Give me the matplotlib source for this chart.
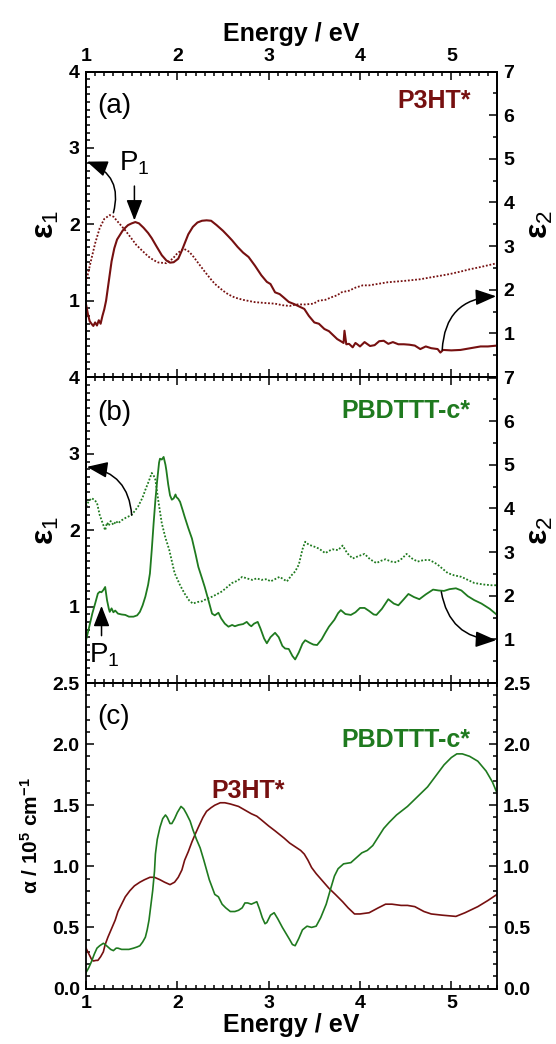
import numpy as np
import matplotlib
matplotlib.use("Agg")
import matplotlib.pyplot as plt
from matplotlib.ticker import MultipleLocator, FixedLocator

plt.rcParams['font.family'] = ['Liberation Sans', 'DejaVu Sans']
plt.rcParams['mathtext.fontset'] = 'custom'
plt.rcParams['mathtext.rm'] = 'Liberation Sans'
plt.rcParams['mathtext.it'] = 'Liberation Sans:italic'
plt.rcParams['mathtext.bf'] = 'Liberation Sans:bold'

RED = '#761010'
GREEN = '#1f7a1f'

# ---------------- data (energy in eV, value) ----------------
p3ht_eps1 = [(1.00,1.24),(1.05,1.50),(1.10,1.75),(1.15,1.95),(1.20,2.07),(1.26,2.12),(1.30,2.10),(1.35,2.03),
             (1.43,1.92),(1.50,1.81),(1.55,1.73),(1.61,1.66),(1.68,1.58),(1.74,1.53),(1.79,1.50),(1.88,1.49),
             (1.95,1.55),(2.00,1.62),(2.07,1.68),(2.13,1.64),(2.18,1.57),(2.23,1.49),(2.30,1.38),(2.36,1.29),
             (2.41,1.22),(2.50,1.13),(2.56,1.08),(2.63,1.04),(2.72,1.01),(2.85,0.98),(2.95,0.97),(3.07,0.96),
             (3.15,0.94),(3.23,0.93),(3.30,0.95),(3.40,0.95),(3.49,0.96),(3.55,1.00),(3.62,1.01),(3.70,1.05),
             (3.75,1.07),(3.80,1.11),(3.88,1.13),(3.95,1.17),(4.03,1.20),(4.10,1.20),(4.20,1.22),(4.30,1.24),
             (4.40,1.25),(4.50,1.26),(4.66,1.28),(4.80,1.31),(4.90,1.33),(4.99,1.35),(5.10,1.38),(5.20,1.41),
             (5.32,1.44),(5.50,1.49)]

p3ht_eps2 = [(1.00,1.67),(1.02,1.45),(1.04,1.28),(1.06,1.22),(1.08,1.17),(1.10,1.25),(1.12,1.18),(1.14,1.30),
             (1.16,1.22),(1.18,1.40),(1.20,1.55),(1.22,1.75),(1.25,2.20),(1.28,2.65),(1.31,2.95),(1.34,3.15),
             (1.37,3.25),(1.40,3.35),(1.43,3.42),(1.46,3.48),(1.50,3.52),(1.54,3.55),(1.58,3.52),(1.63,3.42),
             (1.68,3.30),(1.72,3.18),(1.77,3.00),(1.83,2.79),(1.88,2.67),(1.92,2.62),(1.96,2.63),(2.01,2.71),
             (2.05,2.90),(2.08,3.06),(2.12,3.27),(2.17,3.44),(2.22,3.54),(2.27,3.58),(2.32,3.59),(2.37,3.58),
             (2.43,3.48),(2.50,3.35),(2.56,3.22),(2.60,3.13),(2.66,2.98),(2.72,2.85),(2.78,2.75),(2.85,2.55),
             (2.92,2.33),(2.98,2.18),(3.02,2.13),(3.07,1.94),(3.12,1.90),(3.16,1.83),(3.22,1.72),(3.28,1.67),
             (3.33,1.62),(3.39,1.56),(3.44,1.40),(3.50,1.25),(3.55,1.22),(3.61,1.10),(3.66,1.05),(3.71,0.95),
             (3.75,0.87),(3.79,0.82),(3.82,0.78),(3.83,1.06),(3.85,0.75),(3.88,0.76),(3.92,0.68),(3.95,0.78),
             (3.97,0.75),(4.00,0.70),(4.05,0.80),(4.11,0.71),(4.16,0.73),(4.21,0.82),(4.26,0.83),(4.31,0.76),
             (4.36,0.80),(4.42,0.75),(4.48,0.75),(4.54,0.74),(4.60,0.72),(4.66,0.64),(4.72,0.70),(4.78,0.66),
             (4.85,0.64),(4.88,0.56),(4.91,0.62),(5.00,0.61),(5.10,0.62),(5.21,0.66),(5.32,0.70),(5.40,0.70),
             (5.50,0.72)]

pbd_eps1 = [(1.00,2.31),(1.03,2.38),(1.06,2.42),(1.09,2.40),(1.12,2.36),(1.15,2.20),(1.18,2.10),(1.21,2.00),
            (1.23,2.10),(1.25,2.06),(1.27,2.12),(1.30,2.07),(1.33,2.12),(1.35,2.09),(1.39,2.13),(1.43,2.16),
            (1.50,2.20),(1.57,2.31),(1.62,2.43),(1.65,2.53),(1.69,2.65),(1.72,2.75),(1.74,2.72),(1.76,2.66),
            (1.79,2.40),(1.83,2.09),(1.87,1.90),(1.91,1.75),(1.97,1.44),(2.03,1.28),(2.08,1.17),(2.13,1.08),
            (2.17,1.04),(2.22,1.06),(2.27,1.07),(2.32,1.10),(2.38,1.13),(2.43,1.16),(2.49,1.20),(2.55,1.26),
            (2.60,1.31),(2.66,1.34),(2.71,1.39),(2.76,1.37),(2.82,1.35),(2.87,1.37),(2.92,1.35),(2.98,1.36),
            (3.02,1.33),(3.07,1.36),(3.12,1.39),(3.20,1.33),(3.25,1.41),(3.29,1.46),(3.33,1.55),(3.37,1.75),
            (3.40,1.85),(3.44,1.81),(3.49,1.79),(3.55,1.76),(3.62,1.70),(3.66,1.73),(3.70,1.75),(3.76,1.74),
            (3.81,1.80),(3.86,1.70),(3.92,1.63),(3.98,1.66),(4.05,1.69),(4.11,1.62),(4.18,1.57),(4.23,1.60),
            (4.28,1.62),(4.34,1.59),(4.40,1.58),(4.46,1.63),(4.51,1.69),(4.57,1.63),(4.63,1.59),(4.70,1.61),
            (4.76,1.61),(4.81,1.58),(4.85,1.55),(4.90,1.50),(4.96,1.44),(5.03,1.41),(5.11,1.39),(5.18,1.35),
            (5.25,1.31),(5.35,1.29),(5.44,1.28),(5.50,1.28)]

pbd_eps2 = [(1.00,0.98),(1.02,1.15),(1.04,1.33),(1.07,1.60),(1.10,1.82),(1.13,2.05),(1.15,2.09),(1.17,2.08),
            (1.19,2.13),(1.21,2.20),(1.22,2.05),(1.23,1.90),(1.25,1.70),(1.26,1.63),(1.28,1.71),(1.30,1.62),
            (1.32,1.66),(1.35,1.59),(1.39,1.57),(1.43,1.56),(1.47,1.52),(1.52,1.52),(1.56,1.55),(1.59,1.63),
            (1.62,1.78),(1.65,1.98),(1.68,2.25),(1.70,2.51),(1.72,3.05),(1.74,3.65),(1.76,4.20),(1.78,4.65),
            (1.80,5.05),(1.81,5.14),(1.83,5.12),(1.85,5.18),(1.87,5.00),(1.88,4.87),(1.90,4.55),(1.92,4.30),
            (1.94,4.20),(1.96,4.23),(1.98,4.32),(1.99,4.26),(2.01,4.22),(2.03,4.15),(2.06,3.95),(2.08,3.81),
            (2.12,3.55),(2.16,3.31),(2.20,2.95),(2.23,2.66),(2.27,2.40),(2.30,2.20),(2.34,1.90),(2.38,1.59),
            (2.41,1.55),(2.45,1.61),(2.48,1.48),(2.52,1.36),(2.56,1.29),(2.60,1.33),(2.63,1.30),(2.67,1.33),
            (2.72,1.35),(2.76,1.40),(2.79,1.33),(2.81,1.30),(2.84,1.36),(2.88,1.40),(2.91,1.25),(2.95,1.02),
            (2.98,0.91),(3.02,1.05),(3.07,1.15),(3.11,1.05),(3.15,0.85),(3.18,0.79),(3.22,0.78),(3.26,0.62),
            (3.29,0.54),(3.33,0.70),(3.37,0.90),(3.40,0.98),(3.45,0.92),(3.49,0.88),(3.53,0.87),(3.58,1.00),
            (3.62,1.15),(3.66,1.29),(3.72,1.45),(3.76,1.60),(3.79,1.67),(3.84,1.58),(3.90,1.56),(3.95,1.62),
            (4.00,1.72),(4.05,1.72),(4.10,1.65),(4.15,1.57),(4.18,1.56),(4.24,1.70),(4.31,1.92),(4.37,1.82),
            (4.42,1.78),(4.48,1.92),(4.53,2.04),(4.59,1.97),(4.65,1.92),(4.72,2.03),(4.80,2.14),(4.86,2.12),
            (4.92,2.11),(4.98,2.15),(5.05,2.17),(5.11,2.12),(5.18,1.99),(5.25,1.90),(5.33,1.82),(5.42,1.70),
            (5.50,1.56)]

p3ht_alpha = [(1.00,0.33),(1.02,0.30),(1.04,0.27),(1.06,0.24),(1.08,0.225),(1.11,0.23),(1.13,0.23),(1.16,0.26),
              (1.19,0.30),(1.21,0.36),(1.24,0.42),(1.28,0.49),(1.32,0.56),(1.35,0.63),(1.39,0.69),(1.43,0.75),
              (1.48,0.80),(1.53,0.84),(1.59,0.87),(1.64,0.89),(1.70,0.91),(1.75,0.91),(1.81,0.89),(1.86,0.87),
              (1.92,0.85),(1.97,0.87),(2.01,0.91),(2.05,0.97),(2.08,1.05),(2.12,1.12),(2.16,1.20),(2.20,1.27),
              (2.23,1.32),(2.28,1.40),(2.32,1.45),(2.37,1.48),(2.41,1.50),(2.47,1.52),(2.52,1.52),(2.58,1.51),
              (2.67,1.49),(2.74,1.46),(2.81,1.43),(2.87,1.41),(2.92,1.38),(3.00,1.33),(3.07,1.29),(3.12,1.26),
              (3.17,1.23),(3.23,1.19),(3.29,1.16),(3.35,1.13),(3.39,1.10),(3.43,1.05),(3.47,0.99),(3.52,0.94),
              (3.59,0.88),(3.66,0.82),(3.73,0.77),(3.81,0.71),(3.87,0.66),(3.94,0.61),(4.00,0.61),(4.10,0.62),
              (4.20,0.66),(4.28,0.69),(4.35,0.69),(4.45,0.68),(4.52,0.68),(4.60,0.67),(4.70,0.63),(4.78,0.61),
              (4.90,0.60),(5.05,0.59),(5.15,0.62),(5.29,0.67),(5.40,0.72),(5.50,0.77)]

pbd_alpha = [(1.00,0.13),(1.03,0.17),(1.06,0.22),(1.09,0.28),(1.12,0.33),(1.15,0.35),(1.19,0.37),(1.21,0.36),
             (1.24,0.34),(1.27,0.32),(1.30,0.31),(1.33,0.33),(1.35,0.33),(1.39,0.32),(1.43,0.32),(1.47,0.32),
             (1.52,0.33),(1.56,0.34),(1.59,0.35),(1.62,0.38),(1.65,0.42),(1.67,0.48),(1.69,0.56),(1.71,0.68),
             (1.73,0.80),(1.75,0.96),(1.76,1.10),(1.78,1.22),(1.81,1.32),(1.84,1.39),(1.87,1.42),(1.89,1.40),
             (1.92,1.35),(1.94,1.35),(1.97,1.39),(2.00,1.44),(2.04,1.49),(2.07,1.47),(2.10,1.43),(2.14,1.37),
             (2.17,1.30),(2.21,1.22),(2.25,1.15),(2.29,1.05),(2.32,0.97),(2.35,0.89),(2.38,0.83),(2.41,0.77),
             (2.45,0.75),(2.49,0.69),(2.53,0.66),(2.58,0.63),(2.63,0.63),(2.67,0.64),(2.71,0.66),(2.74,0.70),
             (2.77,0.70),(2.81,0.69),(2.84,0.70),(2.87,0.71),(2.90,0.65),(2.93,0.58),(2.96,0.53),(2.98,0.54),
             (3.02,0.60),(3.06,0.62),(3.10,0.57),(3.15,0.50),(3.19,0.45),(3.23,0.40),(3.26,0.36),(3.29,0.35),
             (3.33,0.41),(3.37,0.48),(3.42,0.51),(3.47,0.50),(3.52,0.51),(3.57,0.58),(3.63,0.69),(3.68,0.82),
             (3.72,0.92),(3.76,0.98),(3.82,1.02),(3.90,1.03),(3.96,1.07),(4.02,1.11),(4.08,1.13),(4.14,1.17),
             (4.20,1.24),(4.26,1.31),(4.32,1.36),(4.40,1.42),(4.52,1.49),(4.63,1.57),(4.74,1.65),(4.84,1.75),
             (4.92,1.83),(5.00,1.89),(5.06,1.92),(5.12,1.92),(5.20,1.90),(5.29,1.86),(5.38,1.78),(5.45,1.69),
             (5.50,1.60)]

x_ticks = [1, 2, 3, 4, 5]
eps1_ticks = [1, 2, 3, 4]
eps2_ticks = [1, 2, 3, 4, 5, 6, 7]
alpha_ticks = [0.0, 0.5, 1.0, 1.5, 2.0, 2.5]


def xy(pairs):
    a = np.array(pairs)
    return a[:, 0], a[:, 1]


fig = plt.figure(figsize=(5.56, 10.44), dpi=100)
L, W = 86 / 556, 411 / 556
H = 305.5 / 1044
axa = fig.add_axes([L, 1 - 377 / 1044, W, H])
axb = fig.add_axes([L, 1 - 683 / 1044, W, H])
axc = fig.add_axes([L, 1 - 988.5 / 1044, W, H])
axa2 = axa.twinx()
axb2 = axb.twinx()

TFS = 14
for ax in (axa, axb, axc, axa2, axb2):
    ax.set_xlim(1, 5.5)
    ax.xaxis.set_major_locator(FixedLocator(x_ticks))
    ax.xaxis.set_minor_locator(MultipleLocator(0.1))
    ax.tick_params(which='both', direction='in', width=1.1, labelsize=TFS, pad=4.5)
    ax.tick_params(which='major', length=6)
    ax.tick_params(which='minor', length=3)
    for sp in ax.spines.values():
        sp.set_linewidth(1.3)

for ax in (axa, axb, axc):
    ax.tick_params(which='both', top=True, bottom=True, left=True,
                   labelbottom=False, labeltop=False)
for ax in (axa2, axb2):
    ax.tick_params(which='both', top=False, bottom=False, right=True, left=False,
                   labelbottom=False, labeltop=False)

axa.set_ylim(0, 4)
axa2.set_ylim(0, 7)
axb.set_ylim(0, 4)
axb2.set_ylim(0, 7)
for ax in (axa, axb):
    ax.yaxis.set_major_locator(FixedLocator(eps1_ticks))
    ax.yaxis.set_minor_locator(MultipleLocator(0.1))
for ax in (axa2, axb2):
    ax.yaxis.set_major_locator(FixedLocator(eps2_ticks))
    ax.yaxis.set_minor_locator(MultipleLocator(0.5))

axa.tick_params(labeltop=True)
axa.xaxis.set_label_position('top')
axa.set_xlabel('Energy / eV', fontsize=18, fontweight='bold', labelpad=5)

dot = (0, (1, 1))
x, y = xy(p3ht_eps1)
axa.plot(x, y, color=RED, lw=1.3, ls=dot)
x, y = xy(p3ht_eps2)
axa2.plot(x, y, color=RED, lw=1.5)

x, y = xy(pbd_eps1)
axb.plot(x, y, color=GREEN, lw=1.3, ls=dot)
x, y = xy(pbd_eps2)
axb2.plot(x, y, color=GREEN, lw=1.3)

axc.set_ylim(0, 2.5)
axc.yaxis.set_major_locator(FixedLocator(alpha_ticks))
axc.yaxis.set_minor_locator(MultipleLocator(0.1))
axc.yaxis.set_major_formatter(matplotlib.ticker.FormatStrFormatter('%.1f'))
axc.tick_params(which='both', right=True, labelright=True, labelbottom=True)
x, y = xy(p3ht_alpha)
axc.plot(x, y, color=RED, lw=1.2)
x, y = xy(pbd_alpha)
axc.plot(x, y, color=GREEN, lw=1.2)
axc.set_xlabel('Energy / eV', fontsize=18, fontweight='bold', labelpad=1)

for ax in (axa, axb, axc, axa2, axb2):
    for lab in ax.get_xticklabels() + ax.get_yticklabels():
        lab.set_fontweight('bold')
        lab.set_fontsize(TFS)

for ax in (axa, axb):
    ax.set_ylabel(r'$\mathbf{ε}_1$', fontsize=23, labelpad=6)
for ax in (axa2, axb2):
    ax.set_ylabel(r'$\mathbf{ε}_2$', fontsize=23, rotation=90, labelpad=8)
axc.set_ylabel(r'$\mathbf{α\ /\ 10^5\ cm^{-1}}$', fontsize=15, labelpad=8)

axa.text(1.12, 3.55, '(a)', fontsize=20, ha='left', va='center')
axb.text(1.12, 3.53, '(b)', fontsize=20, ha='left', va='center')
axc.text(1.12, 2.22, '(c)', fontsize=20, ha='left', va='center')
axa.text(5.21, 3.61, 'P3HT*', fontsize=18, fontweight='bold', color=RED, ha='right', va='center')
axb.text(5.21, 3.56, 'PBDTTT-c*', fontsize=18, fontweight='bold', color=GREEN, ha='right', va='center')
axc.text(5.21, 2.03, 'PBDTTT-c*', fontsize=18, fontweight='bold', color=GREEN, ha='right', va='center')
axc.text(2.37, 1.62, 'P3HT*', fontsize=18, fontweight='bold', color=RED, ha='left', va='center')

axa.text(1.53, 2.80, r'P$_1$', fontsize=20, ha='center', va='center')
axb.text(1.20, 0.36, r'P$_1$', fontsize=20, ha='center', va='center')

ak = dict(arrowstyle='-|>,head_length=0.9,head_width=0.35', color='black', lw=1.1,
          shrinkA=0, shrinkB=0, mutation_scale=14)
axa.annotate('', xy=(1.53, 2.05), xytext=(1.53, 2.50), arrowprops=ak)
axb.annotate('', xy=(1.17, 1.01), xytext=(1.17, 0.62), arrowprops=ak)

axa.annotate('', xy=(1.01, 2.82), xytext=(1.30, 2.15),
             arrowprops=dict(ak, connectionstyle='arc3,rad=0.45'))
axb.annotate('', xy=(1.01, 2.83), xytext=(1.50, 2.20),
             arrowprops=dict(ak, connectionstyle='arc3,rad=0.4'))
axa2.annotate('', xy=(5.49, 1.85), xytext=(4.90, 0.62),
              arrowprops=dict(ak, connectionstyle='arc3,rad=-0.45'))
axb2.annotate('', xy=(5.49, 0.98), xytext=(4.89, 2.09),
              arrowprops=dict(ak, connectionstyle='arc3,rad=0.4'))

fig.savefig('out.png', dpi=100)
